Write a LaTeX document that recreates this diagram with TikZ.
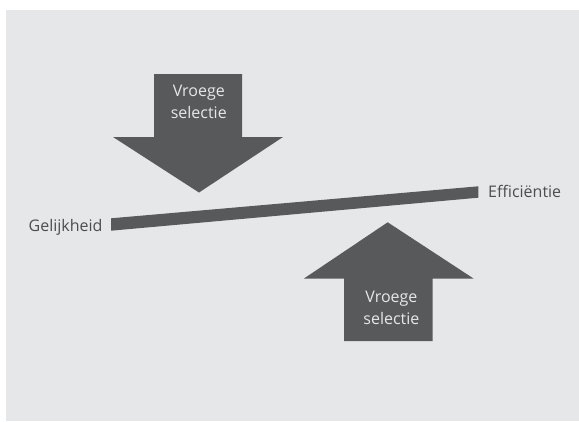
\documentclass[tikz,border=0pt]{standalone}
\usepackage{fontspec}
\setmainfont{Open Sans}
\usetikzlibrary{positioning}
\definecolor{donker}{HTML}{58595B}
\definecolor{achtergrond}{HTML}{E6E7E8}
\definecolor{tekst}{HTML}{4D4D4F}

\begin{document}
\begin{tikzpicture}[x=1pt,y=-1pt]
\useasboundingbox (0,0) rectangle (579,421);
\fill [achtergrond] (6,10) rectangle (579,421);

% pijlen
\fill [donker] (154,74) -- (242,74) -- (242,137) -- (283,137) -- (199,192.5) -- (113,137) -- (154,137) -- cycle;
\fill [donker] (344,341) -- (432.5,341) -- (432.5,278.5) -- (473.5,278.5) -- (387.7,222.3) -- (304,278.5) -- (344,278.5) -- cycle;

% balk
\coordinate (links) at (111,224.5);
\coordinate (rechts) at (478.3,192);
\fill [donker] ([yshift=-6.2]links) -- ([yshift=-5.7]rechts) -- ([yshift=5.7]rechts) -- ([yshift=6.2]links) -- cycle;

\begin{scope}[every node/.style={font=\fontsize{16}{22}\selectfont, align=center}]
\node [text=achtergrond] (boven) at (198.8,102.3) {Vroege\\selectie};
\node [text=achtergrond] (onder) at (391.4,308) {Vroege\\selectie};
\node [text=tekst, anchor=base east] (gelijk) at (106,231) {Gelijkheid};
\node [text=tekst, anchor=base west] (effic) at (484.7,197.7) {Efficiëntie};
\end{scope}
\end{tikzpicture}
\end{document}
